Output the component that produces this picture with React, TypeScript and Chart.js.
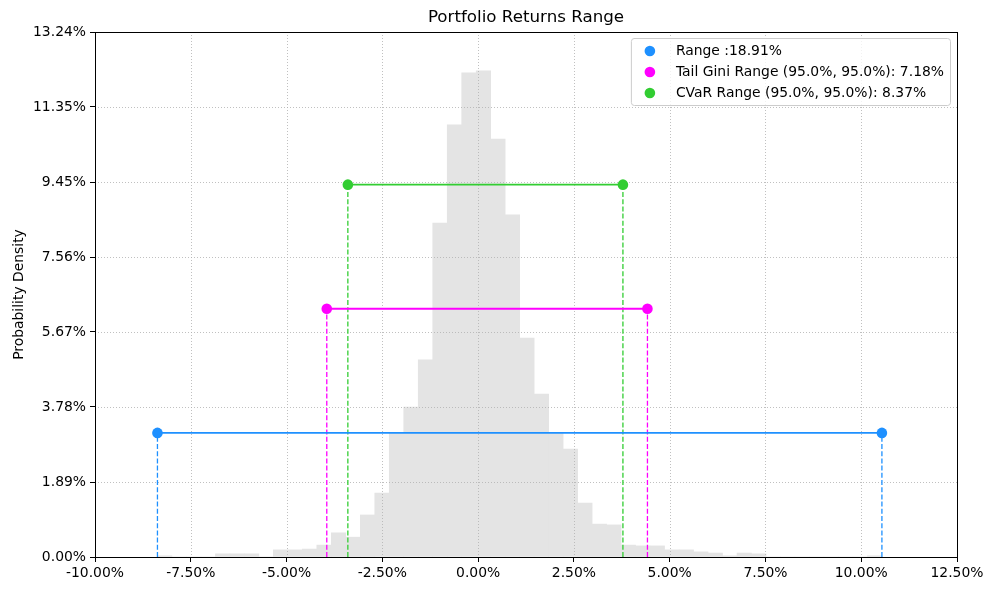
import React, { useEffect, useRef } from "react";
import { Chart, registerables } from "chart.js";

Chart.register(...registerables);

// Histogram bin centres (returns, %) and densities (%)
const binCenters = [
  -8.181, -7.803, -7.425, -7.046, -6.668, -6.29, -5.912, -5.534, -5.156, -4.777,
  -4.399, -4.021, -3.643, -3.265, -2.886, -2.508, -2.13, -1.752, -1.374, -0.995,
  -0.617, -0.239, 0.139, 0.517, 0.896, 1.274, 1.652, 2.03, 2.408, 2.787,
  3.165, 3.543, 3.921, 4.299, 4.677, 5.056, 5.434, 5.812, 6.19, 6.568,
  6.947, 7.325, 7.703, 8.081, 8.459, 8.838, 9.216, 9.594, 9.972, 10.35,
];
const densityValues = [
  0.03, 0, 0, 0, 0.08, 0.08, 0.08, 0, 0.18, 0.18,
  0.2, 0.3, 0.61, 0.5, 1.06, 1.61, 3.12, 3.78, 4.97, 8.42,
  10.9, 12.21, 12.26, 10.54, 8.63, 5.52, 4.11, 3.12, 2.72, 1.36,
  0.83, 0.81, 0.3, 0.28, 0.28, 0.18, 0.18, 0.13, 0.1, 0.03,
  0.1, 0.08, 0, 0, 0, 0, 0, 0, 0, 0.03,
];

const xTickValues = [-10, -7.5, -5, -2.5, 0, 2.5, 5, 7.5, 10, 12.5];
const xTickLabels = ["-10.00%", "-7.50%", "-5.00%", "-2.50%", "0.00%", "2.50%", "5.00%", "7.50%", "10.00%", "12.50%"];
const yTickValues = [0, 1.8914, 3.7829, 5.6743, 7.5657, 9.4571, 11.3486, 13.24];
const yTickLabels = ["0.00%", "1.89%", "3.78%", "5.67%", "7.56%", "9.45%", "11.35%", "13.24%"];

const rangeX = [-8.37, 10.54];
const rangeLevel = 3.13;
const tailGiniX = [-3.95, 4.42];
const tailGiniLevel = 6.26;
const cvarX = [-3.4, 3.78];
const cvarLevel = 9.39;

const seriesNames = [
  "Range :18.91%",
  "Tail Gini Range (95.0%, 95.0%): 7.18%",
  "CVaR Range (95.0%, 95.0%): 8.37%",
];
const seriesColors = ["#1e90ff", "#ff00ff", "#32cd32"];

const titleText = "Portfolio Returns Range";
const yTitleText = "Probability Density";

const FONT = "'DejaVu Sans', 'Liberation Sans', sans-serif";

export default function App() {
  const canvasRef = useRef<HTMLCanvasElement | null>(null);

  useEffect(() => {
    const canvas = canvasRef.current;
    if (!canvas) return;

    const ranges = [
      { xs: rangeX, level: rangeLevel },
      { xs: tailGiniX, level: tailGiniLevel },
      { xs: cvarX, level: cvarLevel },
    ];

    const hLines: any[] = ranges.map((r, i) => ({
      type: "line",
      label: seriesNames[i],
      data: [
        { x: r.xs[0], y: r.level },
        { x: r.xs[1], y: r.level },
      ],
      borderColor: seriesColors[i],
      backgroundColor: seriesColors[i],
      borderWidth: 1.8,
      pointRadius: 5.3,
      pointHoverRadius: 5.3,
      pointBorderWidth: 0,
      pointBackgroundColor: seriesColors[i],
      fill: false,
      order: 0,
    }));

    const vLines: any[] = [];
    ranges.forEach((r, i) => {
      r.xs.forEach((xv) => {
        vLines.push({
          type: "line",
          label: "v",
          data: [
            { x: xv, y: 0 },
            { x: xv, y: r.level },
          ],
          borderColor: seriesColors[i],
          borderWidth: 1.3,
          borderDash: [5, 2.2],
          pointRadius: 0,
          fill: false,
          order: 1,
        });
      });
    });

    const hist: any = {
      type: "bar",
      label: "hist",
      data: binCenters.map((c, i) => ({ x: c, y: densityValues[i] })),
      backgroundColor: "rgb(228,228,228)",
      borderWidth: 0,
      barPercentage: 1,
      categoryPercentage: 1,
      order: 2,
    };

    const gridPlugin = {
      id: "mplGrid",
      afterDatasetDraw(chart: any, args: any) {
        if (args.meta.type !== "bar") return;
        const { ctx, chartArea } = chart;
        const xs = chart.scales.x;
        const ys = chart.scales.y;
        ctx.save();
        ctx.strokeStyle = "#b0b0b0";
        ctx.lineWidth = 0.8;
        ctx.setLineDash([1, 2]);
        xTickValues.forEach((v) => {
          const px = Math.round(xs.getPixelForValue(v)) + 0.5;
          ctx.beginPath();
          ctx.moveTo(px, chartArea.top);
          ctx.lineTo(px, chartArea.bottom);
          ctx.stroke();
        });
        yTickValues.forEach((v) => {
          const py = Math.round(ys.getPixelForValue(v)) + 0.5;
          ctx.beginPath();
          ctx.moveTo(chartArea.left, py);
          ctx.lineTo(chartArea.right, py);
          ctx.stroke();
        });
        ctx.restore();
      },
      afterDraw(chart: any) {
        const { ctx, chartArea } = chart;
        ctx.save();
        // frame
        ctx.strokeStyle = "#000";
        ctx.lineWidth = 1;
        ctx.setLineDash([]);
        ctx.strokeRect(
          Math.round(chartArea.left) + 0.5,
          Math.round(chartArea.top) + 0.5,
          Math.round(chartArea.right - chartArea.left),
          Math.round(chartArea.bottom - chartArea.top)
        );
        // title
        ctx.fillStyle = "#000";
        ctx.font = `16.7px ${FONT}`;
        ctx.textAlign = "center";
        ctx.textBaseline = "middle";
        ctx.fillText(titleText, (chartArea.left + chartArea.right) / 2, 18);
        // y title
        ctx.save();
        ctx.translate(19, (chartArea.top + chartArea.bottom) / 2);
        ctx.rotate(-Math.PI / 2);
        ctx.font = `13.9px ${FONT}`;
        ctx.fillText(yTitleText, 0, 0);
        ctx.restore();
        // legend
        ctx.font = `13.9px ${FONT}`;
        const widths = seriesNames.map((s) => ctx.measureText(s).width);
        const maxW = Math.max(...widths);
        const boxRight = chartArea.right - 7;
        const textLeft = boxRight - 6 - maxW;
        const markerX = textLeft - 26;
        const boxLeft = markerX - 19;
        const boxTop = chartArea.top + 6;
        const boxBottom = boxTop + 67;
        ctx.beginPath();
        const r = 3;
        ctx.moveTo(boxLeft + r, boxTop + 0.5);
        ctx.arcTo(boxRight + 0.5, boxTop + 0.5, boxRight + 0.5, boxBottom, r);
        ctx.arcTo(boxRight + 0.5, boxBottom + 0.5, boxLeft, boxBottom + 0.5, r);
        ctx.arcTo(boxLeft + 0.5, boxBottom + 0.5, boxLeft + 0.5, boxTop, r);
        ctx.arcTo(boxLeft + 0.5, boxTop + 0.5, boxRight, boxTop + 0.5, r);
        ctx.closePath();
        ctx.fillStyle = "rgba(255,255,255,0.8)";
        ctx.fill();
        ctx.strokeStyle = "#cccccc";
        ctx.lineWidth = 1;
        ctx.stroke();
        seriesNames.forEach((s, i) => {
          const cy = boxTop + 13 + i * 21;
          ctx.beginPath();
          ctx.arc(markerX, cy, 5.3, 0, Math.PI * 2);
          ctx.fillStyle = seriesColors[i];
          ctx.fill();
          ctx.fillStyle = "#000";
          ctx.textAlign = "left";
          ctx.textBaseline = "middle";
          ctx.fillText(s, textLeft, cy);
        });
        ctx.restore();
      },
    };

    const chart = new Chart(canvas, {
      type: "bar",
      data: { datasets: [...hLines, ...vLines, hist] },
      options: {
        responsive: false,
        animation: false,
        events: [],
        layout: { padding: { left: 0, right: 46, top: 32, bottom: 0 } },
        plugins: {
          legend: { display: false },
          title: { display: false },
          tooltip: { enabled: false },
        },
        scales: {
          x: {
            type: "linear",
            min: -10,
            max: 12.5,
            offset: false,
            afterBuildTicks: (scale: any) => {
              scale.ticks = xTickValues.map((v) => ({ value: v }));
            },
            afterFit: (scale: any) => {
              scale.height = 37;
            },
            ticks: {
              autoSkip: false,
              maxRotation: 0,
              padding: 3,
              color: "#000",
              font: { family: FONT, size: 13.9 },
              callback: (_v: any, i: number) => xTickLabels[i],
            },
            grid: {
              drawOnChartArea: false,
              drawTicks: true,
              tickLength: 5,
              color: "#000",
              offset: false,
            },
            border: { display: true, color: "#000", width: 1 },
          },
          y: {
            type: "linear",
            min: 0,
            max: 13.24,
            afterBuildTicks: (scale: any) => {
              scale.ticks = yTickValues.map((v) => ({ value: v }));
            },
            afterFit: (scale: any) => {
              scale.width = 95;
            },
            ticks: {
              autoSkip: false,
              padding: 4,
              color: "#000",
              font: { family: FONT, size: 13.9 },
              callback: (_v: any, i: number) => yTickLabels[i],
            },
            grid: {
              drawOnChartArea: false,
              drawTicks: true,
              tickLength: 5,
              color: "#000",
            },
            border: { display: true, color: "#000", width: 1 },
          },
        },
      } as any,
      plugins: [gridPlugin],
    });

    return () => {
      chart.destroy();
    };
  }, []);

  return (
    <div style={{ position: "fixed", left: 0, top: 0, width: 1003, height: 594, background: "#fff" }}>
      <canvas ref={canvasRef} width={1003} height={594} style={{ display: "block", width: 1003, height: 594 }} />
    </div>
  );
}
